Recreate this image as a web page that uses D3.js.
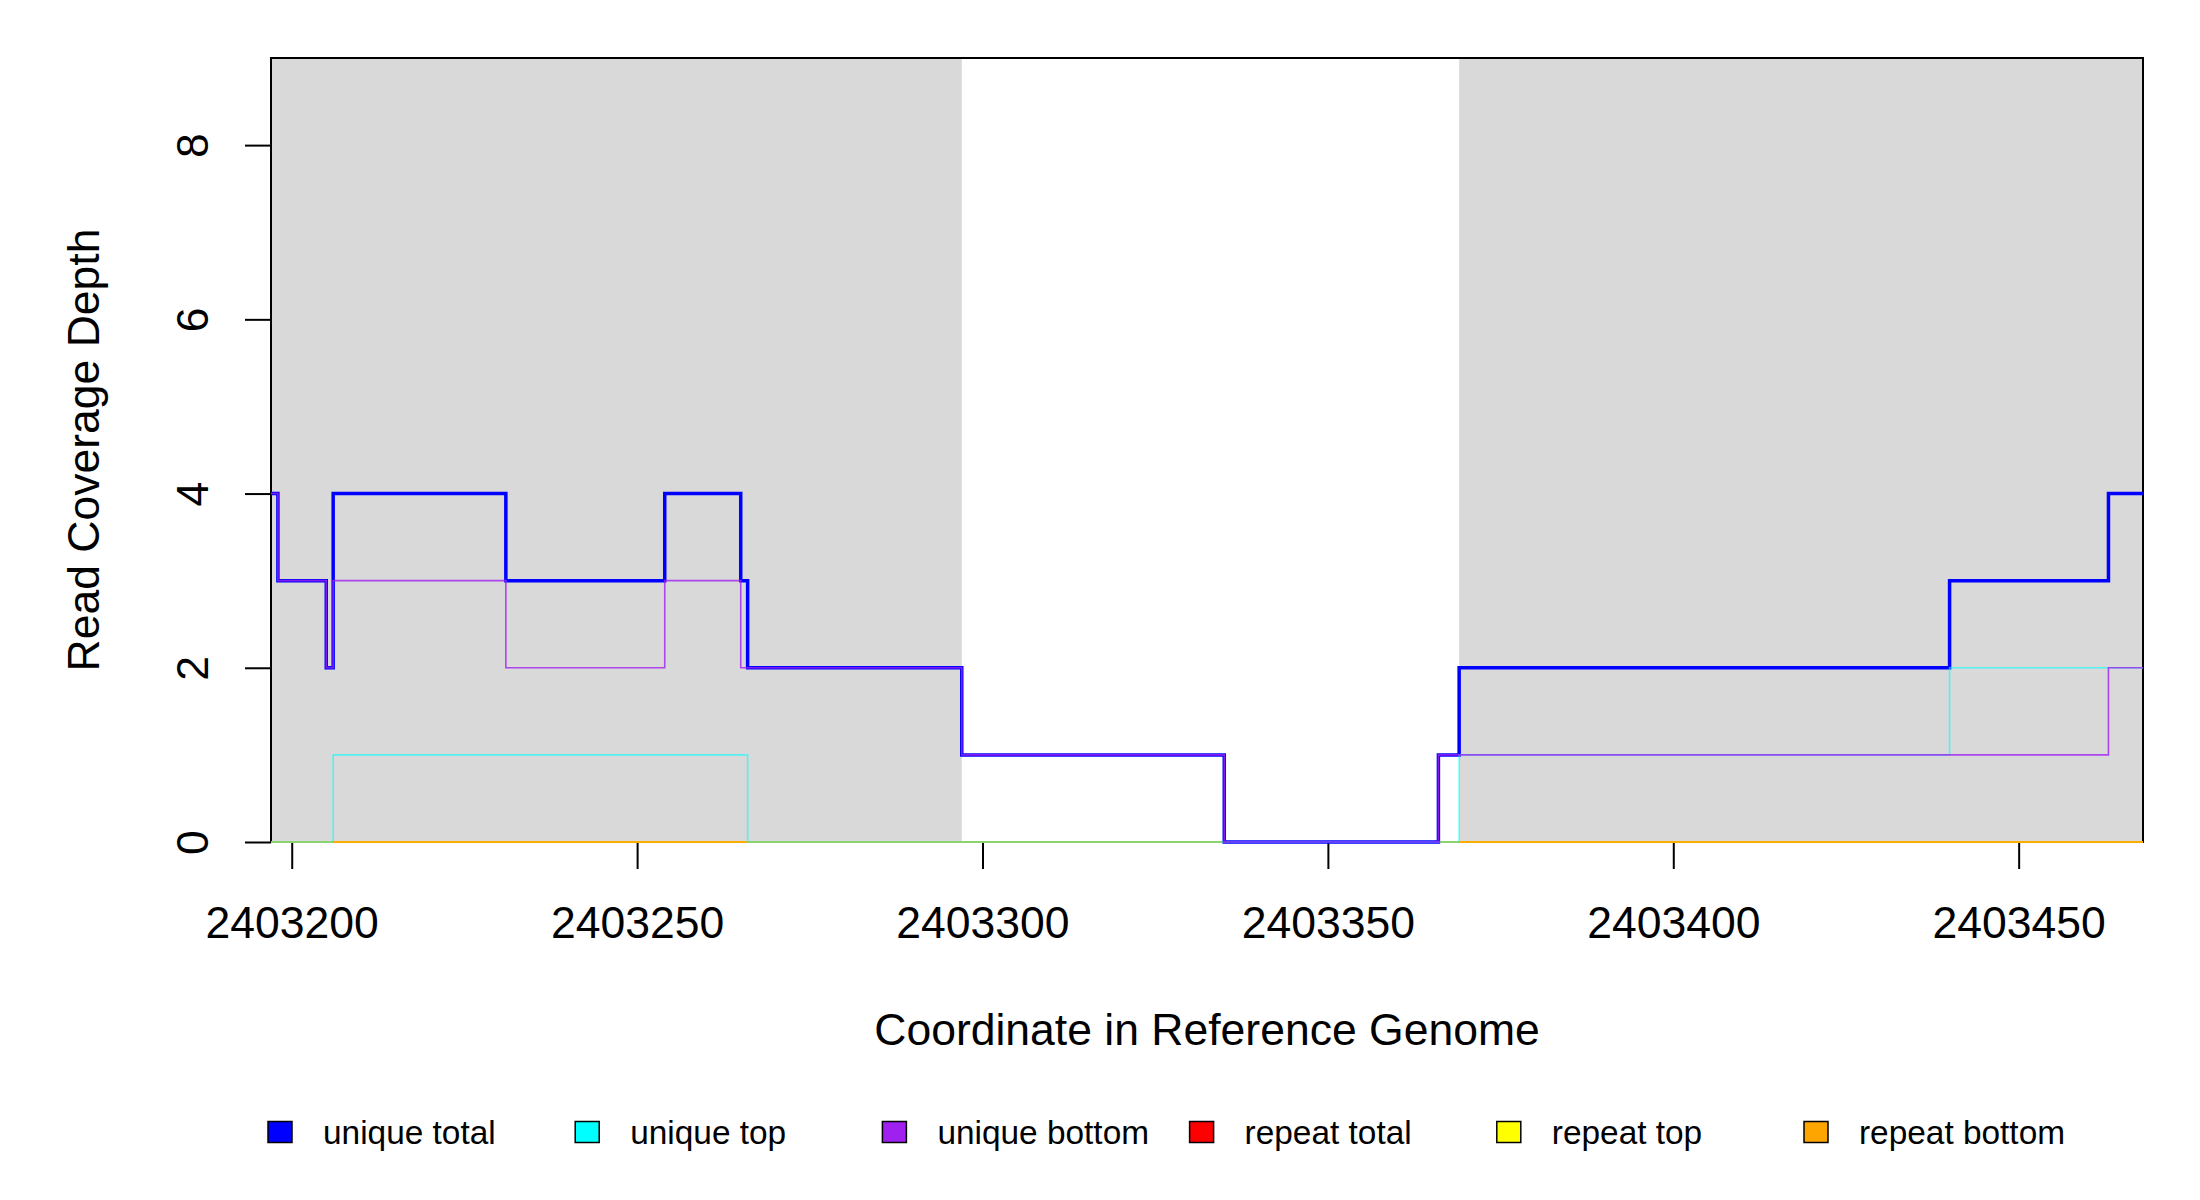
<!DOCTYPE html>
<html>
<head>
<meta charset="utf-8">
<script src="https://cdn.jsdelivr.net/npm/d3@7/dist/d3.min.js"></script>
<style>
  body { margin: 0; background: #fff; }
  text { font-family: "Liberation Sans", Arial, sans-serif; }
</style>
</head>
<body>
<script>
var width = 2200;
var height = 1200;

// genome positions where the coverage changes (last one closes the plot)
var positions = [2403197, 2403198, 2403205, 2403206, 2403231, 2403254, 2403265,
                 2403266, 2403297, 2403335, 2403366, 2403369, 2403440, 2403463, 2403468];

var uniqueTotal  = [4, 3, 2, 4, 3, 4, 3, 2, 1, 0, 1, 2, 3, 4, 4];
var uniqueTop    = [0, 0, 0, 1, 1, 1, 1, 0, 0, 0, 0, 1, 2, 2, 2];
var uniqueBottom = [4, 3, 2, 3, 2, 3, 2, 2, 1, 0, 1, 1, 1, 2, 2];
var repeatTotal  = [0, 0, 0, 0, 0, 0, 0, 0, 0, 0, 0, 0, 0, 0, 0];
var repeatTop    = [0, 0, 0, 0, 0, 0, 0, 0, 0, 0, 0, 0, 0, 0, 0];
var repeatBottom = [0, 0, 0, 0, 0, 0, 0, 0, 0, 0, 0, 0, 0, 0, 0];

// shaded (gray) regions, start / end coordinates
var shadeStart = [2403197, 2403369];
var shadeEnd   = [2403297, 2403468];

var xTicks = [2403200, 2403250, 2403300, 2403350, 2403400, 2403450];
var yTicks = [0, 2, 4, 6, 8];

var seriesNames  = ["unique total", "unique top", "unique bottom", "repeat total", "repeat top", "repeat bottom"];
var seriesColors = ["#0000ff", "#00ffff", "#a020f0", "#ff0000", "#ffff00", "#ffa500"];

var plotLeft = 271, plotRight = 2143, plotTop = 58, plotBottom = 842;

var x = d3.scaleLinear().domain([2403197, 2403468]).range([plotLeft, plotRight]);
var y = d3.scaleLinear().domain([0, 9]).range([plotBottom, plotTop]);

var svg = d3.select("body")
    .append("svg")
    .attr("width", width)
    .attr("height", height);

// gray regions
svg.selectAll("rect.shade")
    .data(shadeStart)
    .enter()
    .append("rect")
    .attr("class", "shade")
    .attr("x", function(d) { return x(d); })
    .attr("y", y(9))
    .attr("width", function(d, i) { return x(shadeEnd[i]) - x(d); })
    .attr("height", y(0) - y(9))
    .attr("fill", "#d9d9d9");

// box
svg.append("rect")
    .attr("x", plotLeft)
    .attr("y", plotTop)
    .attr("width", plotRight - plotLeft)
    .attr("height", plotBottom - plotTop)
    .attr("fill", "none")
    .attr("stroke", "#000")
    .attr("stroke-width", 2);

// axes
var xAxis = svg.append("g")
    .attr("transform", "translate(0," + plotBottom + ")")
    .call(d3.axisBottom(x).tickValues(xTicks).tickSize(27).tickSizeOuter(0).tickPadding(37)
        .tickFormat(d3.format("d")));
xAxis.selectAll("line").attr("stroke", "#000").attr("stroke-width", 2);
xAxis.select(".domain").remove();
xAxis.selectAll("text").attr("font-size", "44.5px").attr("fill", "#000");

var yAxis = svg.append("g")
    .attr("transform", "translate(" + plotLeft + ",0)")
    .call(d3.axisLeft(y).tickValues(yTicks).tickSize(26).tickSizeOuter(0));
yAxis.selectAll("line").attr("stroke", "#000").attr("stroke-width", 2);
yAxis.select(".domain").remove();
yAxis.selectAll("text")
    .attr("font-size", "44.5px")
    .attr("fill", "#000")
    .attr("x", null)
    .attr("dy", null)
    .attr("text-anchor", "middle")
    .attr("transform", "translate(-63,0) rotate(-90)");

// coverage lines (repeat ones underneath)
var allSeries = [uniqueTotal, uniqueTop, uniqueBottom, repeatTotal, repeatTop, repeatBottom];
var drawOrder = [3, 4, 5, 0, 1, 2];

var line = d3.line()
    .x(function(d, i) { return x(positions[i]); })
    .y(function(d) { return y(d); })
    .curve(d3.curveStepAfter);

drawOrder.forEach(function(k) {
    svg.append("path")
        .datum(allSeries[k])
        .attr("d", line)
        .attr("fill", "none")
        .attr("stroke", seriesColors[k])
        .attr("stroke-width", k == 0 ? 3.5 : (k >= 3 ? 2.2 : 1.6))
        .attr("stroke-opacity", k == 0 ? 1 : (k == 1 ? 0.6 : 0.8));
});

// axis titles
svg.append("text")
    .attr("x", (plotLeft + plotRight) / 2)
    .attr("y", 1045)
    .attr("text-anchor", "middle")
    .attr("font-size", "44.5px")
    .text("Coordinate in Reference Genome");

svg.append("text")
    .attr("transform", "translate(99," + ((plotTop + plotBottom) / 2) + ") rotate(-90)")
    .attr("text-anchor", "middle")
    .attr("font-size", "44.5px")
    .text("Read Coverage Depth");

// legend
var legend = svg.selectAll("g.legend")
    .data(seriesNames)
    .enter()
    .append("g")
    .attr("class", "legend")
    .attr("transform", function(d, i) {
        return "translate(" + (268 + i * 307.2) + ",1132)";
    });

legend.append("rect")
    .attr("x", 0)
    .attr("y", -10.5)
    .attr("width", 24)
    .attr("height", 21)
    .attr("fill", function(d, i) { return seriesColors[i]; })
    .attr("stroke", "#000")
    .attr("stroke-width", 1.5);

legend.append("text")
    .attr("x", 55)
    .attr("y", 12)
    .attr("font-size", "33.4px")
    .text(function(d) { return d; });
</script>
</body>
</html>
